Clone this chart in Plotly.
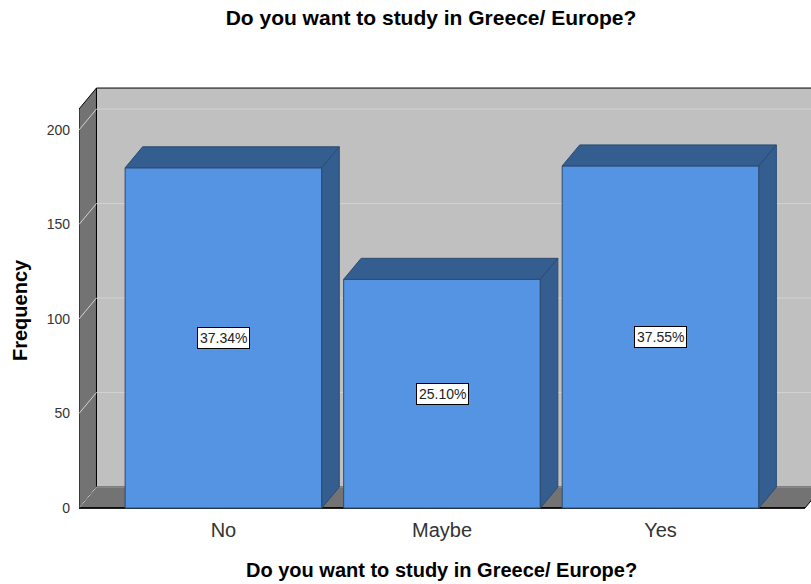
import plotly.graph_objects as go

# Survey answers and their frequencies
categories = ["No", "Maybe", "Yes"]
counts = [180, 121, 181]
y_ticks = [0, 50, 100, 150, 200]

total = sum(counts)
pcts = [c / total * 100 for c in counts]

# 3D box geometry (data units)
BAR_W = 0.9          # bar width in category units
DX = 0.08            # depth offset along x
DY = 11.1            # depth offset along y
X0, X1 = -0.661, 2.661   # front plane extent
Y_TOP = 211.1            # front top of the walls

FRONT = "#5494E2"
SIDE = "#345D90"
EDGE = "#2C4B72"
BACK_WALL = "#C0C0C0"
DARK_WALL = "#737373"
GRID = "#D2D2D2"
FONT = "Liberation Sans, Arial, sans-serif"


def path(points, close=True):
    s = "M " + " L ".join(f"{x},{y}" for x, y in points)
    return s + (" Z" if close else "")


shapes = []
# back wall
shapes.append(dict(type="path", xref="x", yref="y", layer="below",
                   path=path([(X0 + DX, DY), (X1 + DX, DY), (X1 + DX, Y_TOP + DY), (X0 + DX, Y_TOP + DY)]),
                   fillcolor=BACK_WALL, line=dict(color="black", width=1)))
# left wall
shapes.append(dict(type="path", xref="x", yref="y", layer="below",
                   path=path([(X0, 0), (X0, Y_TOP), (X0 + DX, Y_TOP + DY), (X0 + DX, DY)]),
                   fillcolor=DARK_WALL, line=dict(color="black", width=1)))
# floor
shapes.append(dict(type="path", xref="x", yref="y", layer="below",
                   path=path([(X0, 0), (X1, 0), (X1 + DX, DY), (X0 + DX, DY)]),
                   fillcolor=DARK_WALL, line=dict(color="black", width=1)))
# grid lines running across the left wall and the back wall
for v in y_ticks:
    shapes.append(dict(type="path", xref="x", yref="y", layer="below",
                       path=path([(X0, v), (X0 + DX, v + DY), (X1 + DX, v + DY)], close=False),
                       line=dict(color=GRID, width=1)))
# front bottom edge
shapes.append(dict(type="line", xref="x", yref="y", layer="below",
                   x0=X0, x1=X1, y0=0, y1=0, line=dict(color="black", width=1.5)))

fig = go.Figure()

xs = list(range(len(categories)))

# bar front faces
fig.add_trace(go.Bar(x=xs, y=counts, width=BAR_W,
                     marker=dict(color=FRONT, line=dict(color=EDGE, width=1)),
                     hoverinfo="skip", showlegend=False))

# bar top and side faces
h = BAR_W / 2
for i, v in zip(xs, counts):
    fig.add_trace(go.Scatter(
        x=[i - h, i + h, i + h + DX, i - h + DX, i - h],
        y=[v, v, v + DY, v + DY, v],
        mode="lines", fill="toself", fillcolor=SIDE,
        line=dict(color=EDGE, width=1), hoverinfo="skip", showlegend=False))
    fig.add_trace(go.Scatter(
        x=[i + h, i + h + DX, i + h + DX, i + h, i + h],
        y=[0, DY, v + DY, v, 0],
        mode="lines", fill="toself", fillcolor=SIDE,
        line=dict(color=EDGE, width=1), hoverinfo="skip", showlegend=False))

annotations = []
for i, v, p in zip(xs, counts, pcts):
    annotations.append(dict(x=i, y=v / 2, xref="x", yref="y", text=f"{p:.2f}%",
                            showarrow=False, bgcolor="white", bordercolor="black",
                            borderwidth=1, borderpad=2,
                            font=dict(family=FONT, size=14, color="#222222")))

axis_title = "Do you want to study in Greece/ Europe?"
annotations.append(dict(text=f"<b>{axis_title}</b>", xref="paper", yref="paper",
                        x=(441 - 79) / 732, y=(510 - 570) / 423,
                        xanchor="center", yanchor="middle", showarrow=False,
                        font=dict(family=FONT, size=20, color="black")))
annotations.append(dict(text="<b>Frequency</b>", xref="paper", yref="paper",
                        x=(20 - 79) / 732, y=(510 - 310) / 423, textangle=-90,
                        xanchor="center", yanchor="middle", showarrow=False,
                        font=dict(family=FONT, size=20, color="black")))

fig.update_layout(
    width=811, height=584,
    margin=dict(l=79, r=0, t=87, b=74),
    paper_bgcolor="white", plot_bgcolor="white",
    title=dict(text=f"<b>{axis_title}</b>", x=431 / 811, xanchor="center",
               y=1 - 18 / 584, yanchor="middle",
               font=dict(family=FONT, size=21, color="black")),
    shapes=shapes,
    annotations=annotations,
    xaxis=dict(range=[X0, X0 + 732 * (X1 - X0) / 726], tickvals=xs, ticktext=categories,
               showgrid=False, zeroline=False, showline=False, ticks="",
               ticklabelstandoff=6,
               tickfont=dict(family=FONT, size=20, color="#333333")),
    yaxis=dict(range=[-2 / 1.89, (508 - 87) / 1.89], tickvals=y_ticks,
               showgrid=False, zeroline=False, showline=False, ticks="",
               ticklabelstandoff=8,
               tickfont=dict(family=FONT, size=14, color="#333333")),
)

fig.write_html("out.html")
